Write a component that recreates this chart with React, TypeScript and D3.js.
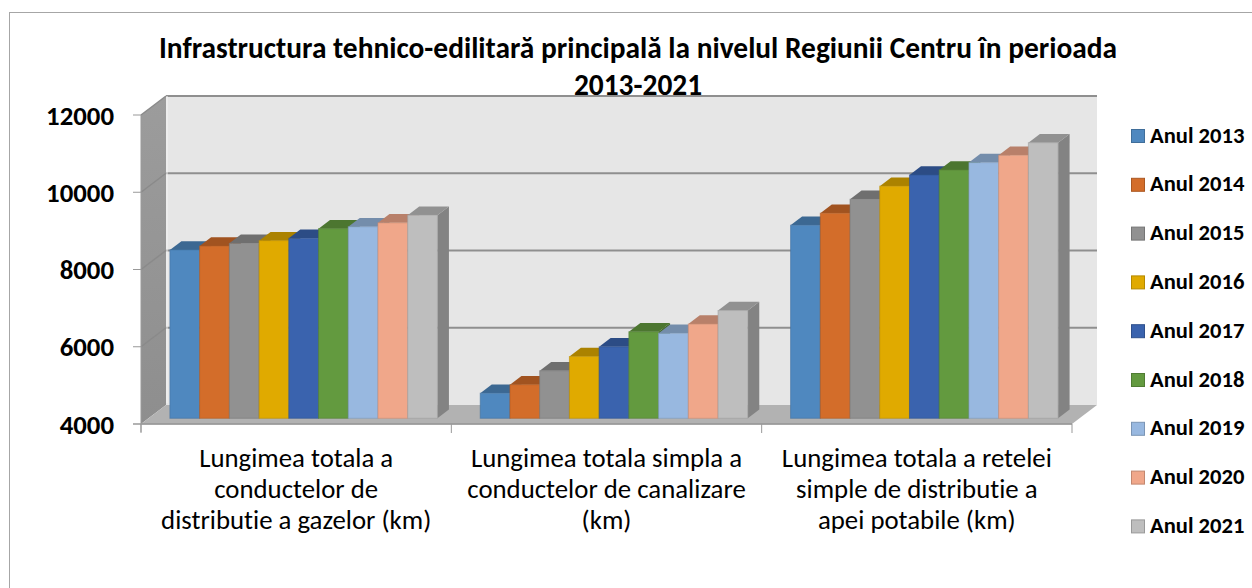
import React from "react";
import * as d3 from "d3";

const categories = ["gaz", "canal", "apa"];
const categoryLines: string[][] = [
  ["Lungimea totala a", "conductelor de", "distributie a gazelor (km)"],
  ["Lungimea totala simpla a", "conductelor de canalizare", "(km)"],
  ["Lungimea totala a retelei", "simple de distributie a", "apei potabile (km)"],
];
const years = ["Anul 2013", "Anul 2014", "Anul 2015", "Anul 2016", "Anul 2017", "Anul 2018", "Anul 2019", "Anul 2020", "Anul 2021"];
const gazValues = [8360, 8460, 8530, 8600, 8660, 8910, 8960, 9060, 9260];
const canalValues = [4650, 4870, 5230, 5600, 5850, 6240, 6200, 6440, 6790];
const apaValues = [9000, 9310, 9670, 10010, 10300, 10430, 10620, 10810, 11135];
const yTicks = [4000, 6000, 8000, 10000, 12000];
const titleLines = ["Infrastructura tehnico-edilitară principală la nivelul Regiunii Centru în perioada", "2013-2021"];

const seriesColors = ["#4F88BF", "#D36D2A", "#919191", "#E0AA00", "#3A63AE", "#639A3F", "#98B8E0", "#F0A78A", "#BEBEBE"];

const FONT = "Carlito, Lato, 'Open Sans', sans-serif";

export default function App() {
  const valuesByCat = [gazValues, canalValues, apaValues];
  const y = d3.scaleLinear().domain([4000, 12000]).range([424, 115]);
  const x0 = d3.scaleBand<string>().domain(categories).range([141, 1072]);
  const x1 = d3.scaleBand<string>().domain(years).range([0, x0.bandwidth()]).paddingInner(0).paddingOuter(0.72);
  const DX = 25, DY = -19;
  const P = (x: number, yy: number, d: number) => [x + d * DX, yy + d * DY];
  const pts = (arr: number[][]) => arr.map((p) => p.join(",")).join(" ");
  const d0 = 0.3, d1 = 0.76;
  const [xL, xR] = x0.range();
  const yB = y(4000), yT = y(12000);

  const bars: JSX.Element[] = [];
  categories.forEach((c, ci) => {
    years.forEach((yr, si) => {
      const v = valuesByCat[ci][si];
      const x = (x0(c) as number) + (x1(yr) as number);
      const w = x1.bandwidth();
      const yt = y(v);
      const col = d3.color(seriesColors[si])!;
      const top = col.darker(0.75).formatHex();
      const side = col.darker(1.05).formatHex();
      const edge = col.darker(0.5).formatHex();
      const fl = P(x, yt, d0), fr = P(x + w, yt, d0), br = P(x + w, yt, d1), bl = P(x, yt, d1);
      const frb = P(x + w, yB, d0), brb = P(x + w, yB, d1), flb = P(x, yB, d0);
      bars.push(
        <g key={c + yr}>
          <polygon points={pts([fr, br, brb, frb])} fill={side} />
          <polygon points={pts([fl, fr, br, bl])} fill={top} />
          <rect x={fl[0]} y={fl[1]} width={w} height={flb[1] - fl[1]} fill={seriesColors[si]} stroke={edge} strokeWidth={1} strokeOpacity={0.6} />
        </g>
      );
    });
  });

  return (
    <svg width={1252} height={588} style={{ position: "absolute", left: 0, top: 0, background: "#fff", fontVariantLigatures: "none" }}>
      <defs>
        <linearGradient id="lw" x1="0" x2="0" y1="0" y2="1">
          <stop offset="0" stopColor="#9c9c9c" />
          <stop offset="1" stopColor="#8e8e8e" />
        </linearGradient>
      </defs>
      <rect x={9.5} y={12.5} width={1300} height={700} fill="#fff" stroke="#a6a6a6" strokeWidth={1} />
      {/* back wall */}
      <polygon points={pts([P(xL, yT, 1), P(xR, yT, 1), P(xR, yB, 1), P(xL, yB, 1)])} fill="#E6E6E6" />
      {/* left wall */}
      <polygon points={pts([P(xL, yT, 0), P(xL, yT, 1), P(xL, yB, 1), P(xL, yB, 0)])} fill="url(#lw)" />
      {/* gridlines */}
      {yTicks.map((t) => (
        <g key={t}>
          {t > 4000 && (
            <>
              <line x1={P(xL, y(t), 0)[0]} y1={P(xL, y(t), 0)[1]} x2={P(xL, y(t), 1)[0]} y2={P(xL, y(t), 1)[1]} stroke="#8a8a8a" strokeWidth={1.5} />
              <line x1={P(xL, y(t), 1)[0]} y1={P(xL, y(t), 1)[1]} x2={P(xR, y(t), 1)[0]} y2={P(xR, y(t), 1)[1]} stroke="#8f8f8f" strokeWidth={2} />
            </>
          )}
        </g>
      ))}
      <line x1={P(xL, yT, 1)[0] + 1} y1={P(xL, yT, 1)[1]} x2={P(xL, yB, 1)[0] + 1} y2={P(xL, yB, 1)[1] - 2} stroke="#f4f4f4" strokeWidth={1} />
      {/* floor */}
      <polygon points={pts([P(xL, yB, 0), P(xL, yB, 1), P(xR, yB, 1), P(xR, yB, 0)])} fill="#B2B2B2" />
      <line x1={xL} y1={yB} x2={xR} y2={yB} stroke="#9a9a9a" strokeWidth={1.5} />
      {bars}
      {/* axes */}
      <line x1={xL} y1={yT} x2={xL} y2={yB + 8} stroke="#999" strokeWidth={1} />
      <line x1={xL - 8} y1={yB} x2={xR} y2={yB} stroke="#999" strokeWidth={1} />
      {yTicks.map((t) => (
        <g key={"t" + t}>
          <line x1={xL - 8} x2={xL} y1={y(t)} y2={y(t)} stroke="#999" />
          <text x={114} y={y(t)} dy="0.36em" textAnchor="end" fontFamily={FONT} fontWeight="bold" fontSize={26.8} fill="#000">{t}</text>
        </g>
      ))}
      {[...categories.map((c) => x0(c) as number), xR].map((xx, i) => (
        <line key={"ct" + i} x1={xx} x2={xx} y1={yB} y2={yB + 9} stroke="#999" />
      ))}
      {categories.map((c, ci) => (
        <text key={"cl" + c} textAnchor="middle" fontFamily={FONT} fontSize={26.8} fill="#000">
          {categoryLines[ci].map((ln, li) => (
            <tspan key={li} x={(x0(c) as number) + x0.bandwidth() / 2} y={467 + li * 31}>{ln}</tspan>
          ))}
        </text>
      ))}
      {/* title */}
      {titleLines.map((t, i) => (
        <text key={"ti" + i} x={638} y={58 + i * 37} textAnchor="middle" fontFamily={FONT} fontWeight="bold" fontSize={29.4} fill="#000">{t}</text>
      ))}
      {/* legend */}
      {years.map((yr, i) => (
        <g key={"lg" + yr} transform={`translate(1131, ${129 + i * 48.8})`}>
          <rect x={0.5} y={0.5} width={13} height={13} fill={seriesColors[i]} stroke={d3.color(seriesColors[i])!.darker(0.6).formatHex()} />
          <text x={19} y={13.5} fontFamily={FONT} fontWeight="bold" fontSize={22.6} fill="#000">{yr}</text>
        </g>
      ))}
    </svg>
  );
}
